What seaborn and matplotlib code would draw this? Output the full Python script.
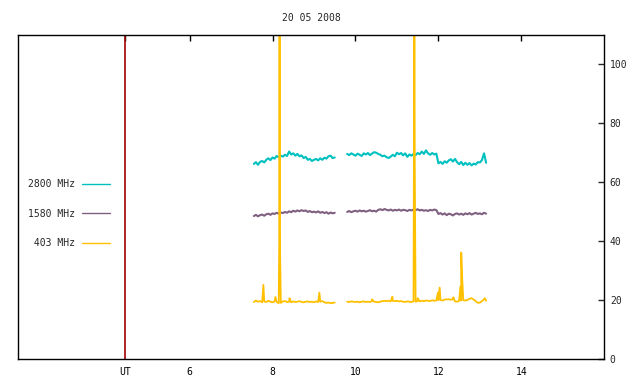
import seaborn as sns
import pandas as pd
import matplotlib.pyplot as plt
import matplotlib.lines as mlines
import numpy as np

# hours UT, sampled every 0.05 h in two recording blocks
seg_starts = [7.55, 9.80]
step = 0.05

f2800_a = [66.2, 66.8, 65.9, 66.9, 67.2, 66.7, 67.6, 68.1, 67.5, 68.4,
           68.0, 68.9, 68.5, 69.0, 68.7, 69.3, 68.9, 70.4, 69.4, 69.8,
           69.0, 69.6, 68.8, 69.1, 68.2, 68.6, 67.6, 67.9, 67.2, 67.6,
           67.9, 67.4, 68.1, 67.6, 68.3, 68.0, 68.8, 69.0, 68.2, 68.4]
f2800_b = [69.6, 69.2, 69.8, 69.4, 69.0, 69.7, 69.3, 68.9, 69.8, 69.4,
           69.9, 69.2, 69.7, 70.2, 70.0, 69.6, 69.3, 68.8, 69.0, 68.5,
           68.2, 68.7, 69.3, 68.8, 70.0, 69.5, 69.9, 69.1, 69.8, 68.6,
           69.4, 69.0, 69.6, 69.2, 69.9, 69.5, 70.4, 69.6, 70.8, 69.8,
           69.3, 69.9, 69.4, 69.7, 66.4, 66.9, 66.2, 67.1, 66.6, 67.4,
           67.8, 67.0, 67.9, 66.8, 66.1, 66.9, 65.8, 66.6, 65.9, 66.5,
           65.7, 66.3, 66.0, 66.8, 66.7, 67.5, 69.8, 66.6]

f1580_a = [48.5, 48.9, 48.4, 48.8, 49.0, 48.6, 49.1, 49.3, 48.9, 49.4,
           49.2, 49.6, 49.3, 49.7, 49.5, 49.9, 49.6, 50.1, 49.8, 50.3,
           50.0, 50.4, 50.1, 50.5, 50.2, 50.4, 49.9, 50.2, 49.8, 50.0,
           49.7, 50.1, 49.6, 49.9, 49.5, 49.8, 49.3, 49.7, 49.4, 49.6]
f1580_b = [49.9, 50.2, 49.8, 50.1, 50.3, 50.0, 50.4, 50.1, 50.3, 50.0,
           50.2, 50.5, 50.1, 50.3, 50.0, 50.6, 50.8, 50.5, 50.9, 50.6,
           50.4, 50.7, 50.3, 50.6, 50.4, 50.7, 50.3, 50.6, 50.5, 50.2,
           50.6, 50.4, 50.7, 50.5, 50.8, 50.4, 50.6, 50.3, 50.5, 50.2,
           50.6, 50.4, 50.7, 50.5, 49.2, 49.5, 49.0, 49.4, 48.8, 49.3,
           49.1, 48.7, 49.2, 49.4, 49.0, 49.3, 48.9, 49.4, 49.1, 49.5,
           49.0, 49.3, 49.6, 49.2, 49.4, 49.1, 49.6, 49.3]

f403_a = [19.3, 19.8, 19.4, 19.6, 19.2, 19.5, 19.3, 19.7, 19.4, 19.2,
          19.5, 19.3, 18.9, 19.0, 19.5, 19.6, 19.3, 19.4, 19.2, 19.5,
          19.3, 19.4, 19.6, 19.3, 19.2, 19.4, 19.5, 19.3, 19.4, 19.2,
          19.5, 19.3, 19.4, 19.6, 19.2, 19.0, 19.1, 18.9, 19.0, 19.1]
f403_b = [19.4, 19.3, 19.5, 19.4, 19.3, 19.4, 19.2, 19.4, 19.5, 19.3,
          19.4, 19.3, 19.6, 19.4, 19.3, 19.2, 19.4, 19.6, 19.7, 19.6,
          19.7, 19.5, 19.7, 19.6, 19.7, 19.5, 19.6, 19.4, 19.3, 19.5,
          19.4, 19.3, 19.5, 19.4, 19.6, 19.5, 19.7, 19.6, 19.8, 19.7,
          19.6, 19.9, 19.7, 19.8, 19.9, 20.0, 19.8, 20.1, 20.2, 20.2,
          20.1, 20.2, 19.5, 19.4, 19.7, 19.8, 19.9, 19.8, 20.0, 20.4,
          20.6, 20.1, 19.6, 19.0, 19.1, 19.6, 20.2, 19.7]

# 403 MHz bursts (time in hours, flux)
burst_t = [7.78, 8.07, 8.165, 8.17, 8.175, 8.41, 9.13, 10.40, 10.89, 11.42,
           11.43, 11.50, 11.99, 12.03, 12.36, 12.53, 12.55, 12.57, 13.12]
burst_v = [25.1, 21.0, 45.0, 118.0, 44.0, 20.6, 22.5, 20.2, 21.1, 118.0,
           65.0, 20.6, 22.5, 24.2, 20.9, 24.5, 36.1, 28.3, 20.6]

ut_hour = 4.44
x_ticks = [ut_hour, 6, 8, 10, 12, 14]
x_labels = ['UT', '6', '8', '10', '12', '14']
y_ticks = [0, 20, 40, 60, 80, 100]

labels = ['2800 MHz', '1580 MHz', ' 403 MHz']
colors = ['#00c0c0', '#806080', '#ffc000']
widths = [1.5, 1.5, 1.3]


def make_frame(blocks, extra_t=None, extra_v=None):
    rows = []
    for i, vals in enumerate(blocks):
        t = seg_starts[i] + step * np.arange(len(vals))
        rows.append(pd.DataFrame({'t': t, 'v': vals}))
    if extra_t is not None:
        rows.append(pd.DataFrame({'t': extra_t, 'v': extra_v}))
    df = pd.concat(rows, ignore_index=True).sort_values('t')
    df['seg'] = (df['t'] > 9.65).astype(int)
    return df


frames = [make_frame([f2800_a, f2800_b]),
          make_frame([f1580_a, f1580_b]),
          make_frame([f403_a, f403_b], burst_t, burst_v)]

sns.set_style('white')
plt.rcParams['font.family'] = ['DejaVu Sans Mono']

fig = plt.figure(figsize=(6.4, 3.84), dpi=100)
ax = fig.add_axes([0.0286, 0.0656, 0.9156, 0.8433])

ax.axvline(ut_hour, color='#a00000', lw=1.2)
for df, c, w in zip(frames, colors, widths):
    sns.lineplot(data=df, x='t', y='v', units='seg', estimator=None,
                 color=c, lw=w, ax=ax, legend=False)

ax.set_xlim(1.87, 16.0)
ax.set_ylim(0, 110)
ax.set_xticks(x_ticks)
ax.set_xticklabels(x_labels)
ax.set_yticks(y_ticks)
ax.yaxis.tick_right()
ax.tick_params(axis='x', direction='in', top=True, length=4, width=1,
               labelsize=7, pad=6, colors='black')
ax.tick_params(axis='y', direction='in', left=False, right=True, length=4,
               width=1, labelsize=7, pad=4)
ax.set_xlabel('')
ax.set_ylabel('')
for s in ax.spines.values():
    s.set_color('black')
    s.set_linewidth(1)
ax.set_title('20 05 2008', fontsize=7, pad=10)

handles = [mlines.Line2D([], [], color=c, lw=1) for c in colors]
ax.legend(handles, labels, loc='upper left', bbox_to_anchor=(0.0166, 0.555),
          frameon=False, markerfirst=False, fontsize=7, borderpad=0,
          borderaxespad=0, labelspacing=2.0, handlelength=2.9,
          handletextpad=0.7)

plt.savefig('out.png', dpi=100)
